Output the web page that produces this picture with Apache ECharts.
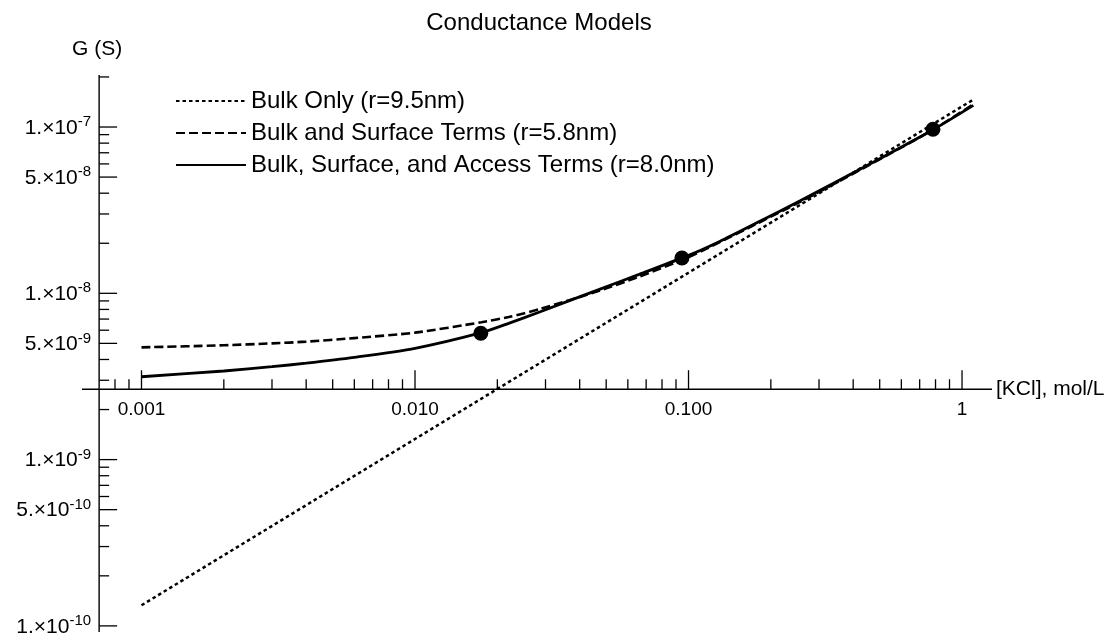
<!DOCTYPE html>
<html>
<head>
<meta charset="utf-8">
<script src="https://cdn.jsdelivr.net/npm/echarts@6/dist/echarts.min.js"></script>
<style>html,body{margin:0;padding:0;background:#fff;}#c{width:1112px;height:639px;}</style>
</head>
<body>
<div id="c"></div>
<script>
// ---- axis extents / crossing ----
const X_MIN = 6.06e-4, X_MAX = 1.287;
const Y_MIN = 9.19e-11, Y_MAX = 2.055e-7;
const X_CROSS = 7.0e-4, Y_CROSS = 2.65e-9;

// ---- ticks ----
const xMajorTicks = [0.001, 0.01, 0.1, 1];
const xTickLabels = ['0.001', '0.010', '0.100', '1'];
const xMinorTicks = [0.0008, 0.0009,
  0.002, 0.003, 0.004, 0.005, 0.006, 0.007, 0.008, 0.009,
  0.02, 0.03, 0.04, 0.05, 0.06, 0.07, 0.08, 0.09,
  0.2, 0.3, 0.4, 0.5, 0.6, 0.7, 0.8, 0.9];
const yMajorTicks = [1e-10, 5e-10, 1e-9, 5e-9, 1e-8, 5e-8, 1e-7];
const yTickLabels = ['1.×10^-10', '5.×10^-10', '1.×10^-9', '5.×10^-9', '1.×10^-8', '5.×10^-8', '1.×10^-7'];
const yMinorTicks = [2e-10, 3e-10, 4e-10, 6e-10, 7e-10, 8e-10, 9e-10,
  2e-9, 3e-9, 4e-9, 6e-9, 7e-9, 8e-9, 9e-9,
  2e-8, 3e-8, 4e-8, 6e-8, 7e-8, 8e-8, 9e-8, 2e-7];

// ---- data ----
const bulkConc = [0.001, 0.01, 0.1, 1, 1.1];
const bulkG = [1.33e-10, 1.33e-9, 1.33e-8, 1.33e-7, 1.46e-7];

const modelConc = [0.001, 0.002, 0.003, 0.004, 0.006, 0.01, 0.0175, 0.022, 0.0287, 0.0475, 0.066, 0.1, 0.13, 0.18, 0.256, 0.448, 0.78, 1.1];
const surfaceG = [4.73e-9, 4.87e-9, 5.0e-9, 5.12e-9, 5.38e-9, 5.8e-9, 6.7e-9, 7.2e-9, 8.05e-9, 1.04e-8, 1.26e-8, 1.65e-8, 2.03e-8, 2.65e-8, 3.55e-8, 5.8e-8, 9.6e-8, 1.37e-7];
const accessG = [3.15e-9, 3.41e-9, 3.62e-9, 3.80e-9, 4.12e-9, 4.67e-9, 5.8e-9, 6.6e-9, 7.75e-9, 1.06e-8, 1.30e-8, 1.69e-8, 2.05e-8, 2.68e-8, 3.6e-8, 5.85e-8, 9.6e-8, 1.35e-7];

const measConc = [0.0174, 0.0946, 0.783];
const measG = [5.75e-9, 1.63e-8, 9.7e-8];

const seriesNames = ['Bulk Only (r=9.5nm)', 'Bulk and Surface Terms (r=5.8nm)', 'Bulk, Surface, and Access Terms (r=8.0nm)'];

const FONT = 'Liberation Sans, Arial, Helvetica, sans-serif';
const INK = '#000';

function zip(xs, ys) { return xs.map((x, i) => [x, ys[i]]); }

function richLabel(s) {
  const parts = s.split('^');
  return '{b|' + parts[0] + '}{s|' + parts[1] + '}';
}

const chart = echarts.init(document.getElementById('c'), null, { renderer: 'canvas' });

chart.setOption({
  animation: false,
  backgroundColor: '#fff',
  title: {
    text: 'Conductance Models',
    left: 534, top: 6, textAlign: 'center',
    textStyle: { fontFamily: FONT, fontSize: 24, fontWeight: 'normal', color: INK }
  },
  legend: {
    orient: 'vertical', left: 175, top: 89, padding: 0,
    itemWidth: 70, itemHeight: 14, itemGap: 8,
    data: seriesNames,
    itemStyle: { opacity: 0 },
    textStyle: { fontFamily: FONT, fontSize: 24, color: INK, lineHeight: 22 }
  },
  grid: { left: 82, right: 120, top: 75, bottom: 7, outerBoundsMode: 'none' },
  xAxis: {
    type: 'log', logBase: 10, min: X_MIN, max: X_MAX,
    axisLine: { show: false }, axisTick: { show: false }, axisLabel: { show: false }, splitLine: { show: false }
  },
  yAxis: {
    type: 'log', logBase: 10, min: Y_MIN, max: Y_MAX,
    axisLine: { show: false }, axisTick: { show: false }, axisLabel: { show: false }, splitLine: { show: false }
  },
  series: [
    // axes lines and names
    {
      type: 'custom', silent: true, z: 1,
      data: [[X_CROSS, Y_CROSS]],
      renderItem: function (params, api) {
        const xl = api.coord([X_MIN, Y_CROSS]);
        const xr = api.coord([X_MAX, Y_CROSS]);
        const yb = api.coord([X_CROSS, Y_MIN]);
        const yt = api.coord([X_CROSS, Y_MAX]);
        return { type: 'group', children: [
          { type: 'line', shape: { x1: xl[0], y1: xl[1], x2: xr[0], y2: xr[1] }, style: { stroke: INK, lineWidth: 1.4 } },
          { type: 'line', shape: { x1: yb[0], y1: yb[1], x2: yt[0], y2: yt[1] }, style: { stroke: INK, lineWidth: 1.4 } },
          { type: 'text', x: xr[0] + 4, y: xr[1], style: { text: '[KCl], mol/L', fontFamily: FONT, fontSize: 21, fill: INK, align: 'left', verticalAlign: 'middle' } },
          { type: 'text', x: yt[0] - 2, y: yt[1] - 26, style: { text: 'G (S)', fontFamily: FONT, fontSize: 21, fill: INK, align: 'center', verticalAlign: 'middle' } }
        ] };
      }
    },
    // x major ticks + labels
    {
      type: 'custom', silent: true, z: 1,
      data: xMajorTicks.map(v => [v, Y_CROSS]),
      renderItem: function (params, api) {
        const p = api.coord([api.value(0), api.value(1)]);
        return { type: 'group', children: [
          { type: 'line', shape: { x1: p[0], y1: p[1], x2: p[0], y2: p[1] - 19 }, style: { stroke: INK, lineWidth: 1.3 } },
          { type: 'text', x: p[0], y: p[1] + 21, style: { text: xTickLabels[params.dataIndex], fontFamily: FONT, fontSize: 19, fill: INK, align: 'center', verticalAlign: 'middle' } }
        ] };
      }
    },
    // x minor ticks
    {
      type: 'custom', silent: true, z: 1,
      data: xMinorTicks.map(v => [v, Y_CROSS]),
      renderItem: function (params, api) {
        const p = api.coord([api.value(0), api.value(1)]);
        return { type: 'line', shape: { x1: p[0], y1: p[1], x2: p[0], y2: p[1] - 10 }, style: { stroke: INK, lineWidth: 1.3 } };
      }
    },
    // y major ticks + labels
    {
      type: 'custom', silent: true, z: 1,
      data: yMajorTicks.map(v => [X_CROSS, v]),
      renderItem: function (params, api) {
        const p = api.coord([api.value(0), api.value(1)]);
        return { type: 'group', children: [
          { type: 'line', shape: { x1: p[0], y1: p[1], x2: p[0] + 18, y2: p[1] }, style: { stroke: INK, lineWidth: 1.3 } },
          { type: 'text', x: p[0] - 8, y: p[1] + 1, style: {
              text: richLabel(yTickLabels[params.dataIndex]), align: 'right', verticalAlign: 'middle', fill: INK,
              rich: {
                b: { fontFamily: FONT, fontSize: 21, fill: INK },
                s: { fontFamily: FONT, fontSize: 15, fill: INK, padding: [0, 0, 12, 0] }
              }
          } }
        ] };
      }
    },
    // y minor ticks
    {
      type: 'custom', silent: true, z: 1,
      data: yMinorTicks.map(v => [X_CROSS, v]),
      renderItem: function (params, api) {
        const p = api.coord([api.value(0), api.value(1)]);
        return { type: 'line', shape: { x1: p[0], y1: p[1], x2: p[0] + 10, y2: p[1] }, style: { stroke: INK, lineWidth: 1.3 } };
      }
    },
    {
      name: seriesNames[0], type: 'line', z: 3,
      data: zip(bulkConc, bulkG), showSymbol: false, symbol: 'none',
      lineStyle: { color: INK, width: 2.5, type: [3.5, 3], cap: 'butt' },
      itemStyle: { color: INK, opacity: 0 }
    },
    {
      name: seriesNames[1], type: 'line', z: 3, smooth: 0.25,
      data: zip(modelConc, surfaceG), showSymbol: false, symbol: 'none',
      lineStyle: { color: INK, width: 2.6, type: [9, 4], cap: 'butt' },
      itemStyle: { color: INK, opacity: 0 }
    },
    {
      name: seriesNames[2], type: 'line', z: 4, smooth: 0.25,
      data: zip(modelConc, accessG), showSymbol: false, symbol: 'none',
      lineStyle: { color: INK, width: 2.8 },
      itemStyle: { color: INK, opacity: 0 }
    },
    {
      type: 'scatter', z: 5,
      data: zip(measConc, measG), symbol: 'circle', symbolSize: 15,
      itemStyle: { color: INK, opacity: 1 }
    }
  ]
});
</script>
</body>
</html>
